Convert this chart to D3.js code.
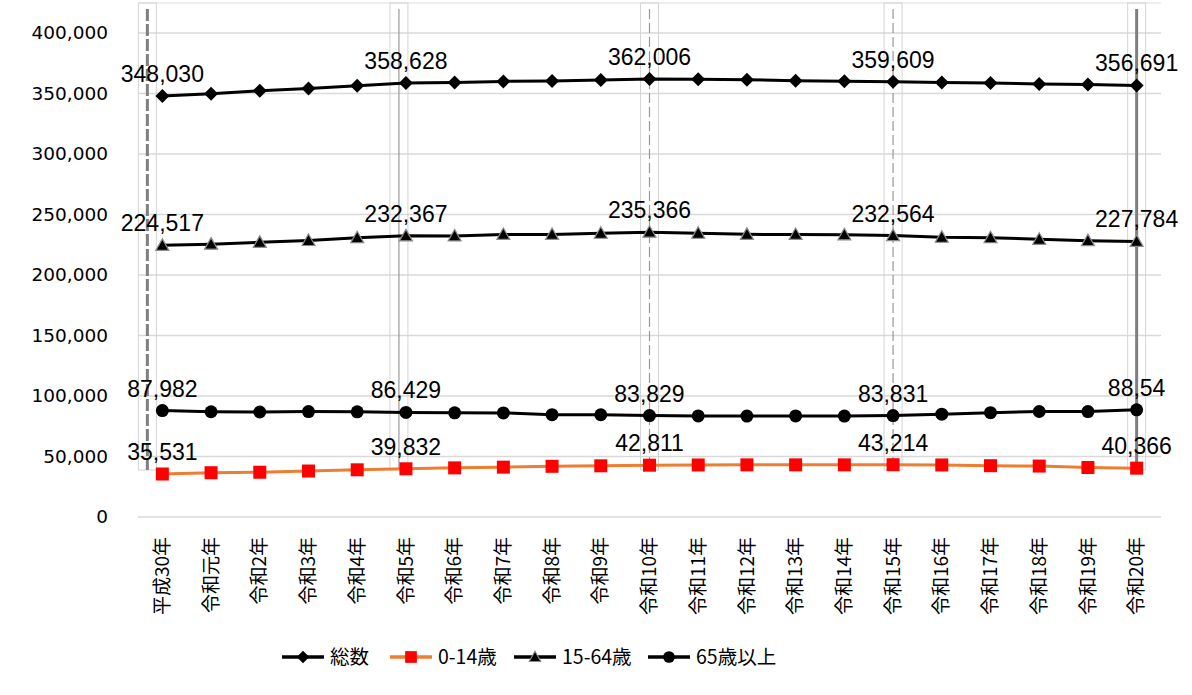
<!DOCTYPE html>
<html>
<head>
<meta charset="utf-8">
<script src="https://cdn.jsdelivr.net/npm/d3@7"></script>
<style>
  body { margin: 0; background: #fff; }
  svg { display: block; }
</style>
</head>
<body>
<div id="draw"></div>
<script>
// categories (x axis)
var years = ["平成30年", "令和元年", "令和2年", "令和3年", "令和4年", "令和5年", "令和6年",
  "令和7年", "令和8年", "令和9年", "令和10年", "令和11年", "令和12年", "令和13年",
  "令和14年", "令和15年", "令和16年", "令和17年", "令和18年", "令和19年", "令和20年"];

// series values
var total = [348030, 349800, 352300, 354200, 356500, 358628, 359000, 360000, 360300, 361200,
  362006, 361700, 361300, 360600, 360200, 359609, 359000, 358700, 357900, 357500, 356691];
var age0_14 = [35531, 36600, 37000, 38000, 39000, 39832, 40600, 41200, 41900, 42300,
  42811, 43000, 43100, 43100, 43100, 43214, 43000, 42400, 42100, 40900, 40366];
var age15_64 = [224517, 225500, 227000, 228500, 230800, 232367, 232300, 233500, 233500, 234500,
  235366, 234500, 233600, 233500, 233200, 232564, 231200, 230800, 229500, 228400, 227784];
var age65 = [87982, 87000, 86800, 87100, 86900, 86429, 86100, 86000, 84600, 84500,
  83829, 83500, 83400, 83500, 83400, 83831, 85000, 86200, 87200, 87100, 88540];

// data labels (only shown every 5 years)
var labelIdx = [0, 5, 10, 15, 20];
var totalLabels = ["348,030", "358,628", "362,006", "359,609", "356,691"];
var age0_14Labels = ["35,531", "39,832", "42,811", "43,214", "40,366"];
var age15_64Labels = ["224,517", "232,367", "235,366", "232,564", "227,784"];
var age65Labels = ["87,982", "86,429", "83,829", "83,831", "88,54"];

var yTicks = [0, 50000, 100000, 150000, 200000, 250000, 300000, 350000, 400000];
var legendNames = ["総数", "0-14歳", "15-64歳", "65歳以上"];

var W = 1192, H = 695;
var plotLeft = 138, plotRight = 1161, plotTop = 33, plotBottom = 517;

var svg = d3.select('#draw').append('svg').attr('width', W).attr('height', H);

var x = d3.scaleBand().domain(years).range([plotLeft, plotRight]);
var cx = function(i){ return x(years[i]) + x.bandwidth() / 2; };
var y = d3.scaleLinear().domain([0, 400000]).range([plotBottom, plotTop]);

// top frame line
svg.append('line').attr('x1', plotLeft).attr('x2', plotRight).attr('y1', 3).attr('y2', 3)
  .attr('stroke', '#dedede').attr('stroke-width', 1);

// gridlines
svg.append('g').selectAll('line').data(yTicks).enter().append('line')
  .attr('x1', plotLeft).attr('x2', plotRight)
  .attr('y1', function(d){ return y(d); }).attr('y2', function(d){ return y(d); })
  .attr('stroke', '#d9d9d9').attr('stroke-width', 1.3);

// y axis labels
var yAxis = d3.axisLeft(y).tickValues(yTicks).tickSize(0).tickPadding(0)
  .tickFormat(function(d){ return d === 0 ? "0" : d3.format(",")(d); });
var ga = svg.append('g').attr('transform', 'translate(108,0)').call(yAxis);
ga.select('.domain').remove();
ga.selectAll('text').attr('font-family', 'DejaVu Sans').attr('font-size', 18.5)
  .attr('fill', '#000');

// x axis labels (vertical)
var xAxis = d3.axisBottom(x).tickSize(0).tickPadding(0);
var gx = svg.append('g').attr('transform', 'translate(0,' + plotBottom + ')').call(xAxis);
gx.select('.domain').remove();
gx.selectAll('text')
  .attr('font-family', '"Noto Sans CJK JP"').attr('font-size', 19).attr('fill', '#000')
  .attr('text-anchor', 'end').attr('dy', '0.35em')
  .attr('transform', 'translate(0,20) rotate(-90)').attr('y', 0).attr('x', 0);

// highlight columns at the labelled years
var colShift = [-15, -7, 0, 0, 0];
var cols = svg.append('g');
labelIdx.forEach(function(idx, k){
  var px = cx(idx) + colShift[k];
  cols.append('rect').attr('x', px - 9).attr('y', 3).attr('width', 18).attr('height', 467)
    .attr('fill', 'none').attr('stroke', '#d4d4d4').attr('stroke-width', 1);
  var ends = (k === 0 || k === labelIdx.length - 1);
  cols.append('line').attr('x1', px).attr('x2', px).attr('y1', 9).attr('y2', 470)
    .attr('stroke', ends ? '#7f7f7f' : '#999')
    .attr('stroke-width', ends ? 3 : 1.2)
    .attr('stroke-dasharray', k === 0 ? '12,3' : (k === 2 || k === 3 ? '10,4' : null));
});

var lineGen = d3.line().x(function(d, i){ return cx(i); }).y(function(d){ return y(d); });

var diamond = "M0,-7L7,0L0,7L-7,0Z";
var series = [
  { vals: total, labels: totalLabels, color: '#000', marker: 'diamond' },
  { vals: age0_14, labels: age0_14Labels, color: '#ED7D31', marker: 'square' },
  { vals: age15_64, labels: age15_64Labels, color: '#000', marker: 'triangle' },
  { vals: age65, labels: age65Labels, color: '#000', marker: 'circle' }
];

function drawMarker(g, type, scale){
  if (type === 'diamond') {
    g.append('path').attr('d', diamond).attr('transform', 'scale(' + scale + ')').attr('fill', '#000');
  } else if (type === 'square') {
    var s = 13 * scale;
    g.append('rect').attr('x', -s / 2).attr('y', -s / 2).attr('width', s).attr('height', s)
      .attr('fill', '#ff0000');
  } else if (type === 'triangle') {
    g.append('path').attr('d', 'M0,-6.5L6.5,5L-6.5,5Z').attr('transform', 'scale(' + scale + ')')
      .attr('fill', '#000').attr('stroke', '#8c8c8c').attr('stroke-width', 1.2);
  } else {
    g.append('circle').attr('r', 6.5 * scale).attr('fill', '#000');
  }
}

series.forEach(function(s){
  svg.append('path').datum(s.vals).attr('d', lineGen)
    .attr('fill', 'none').attr('stroke', s.color).attr('stroke-width', 3);
  var mg = svg.append('g');
  s.vals.forEach(function(v, i){
    var g = mg.append('g').attr('transform', 'translate(' + cx(i) + ',' + y(v) + ')');
    drawMarker(g, s.marker, 1);
  });
});

// data labels
series.forEach(function(s){
  svg.append('g').selectAll('text').data(labelIdx).enter().append('text')
    .attr('x', function(idx){ return cx(idx); })
    .attr('y', function(idx){ return y(s.vals[idx]) - 14; })
    .attr('text-anchor', 'middle')
    .attr('font-family', 'Liberation Sans').attr('font-size', 23).attr('fill', '#000')
    .text(function(idx, k){ return s.labels[k]; });
});

// legend
var legendX = [282, 390, 514, 648];
var lg = svg.append('g').attr('transform', 'translate(0,657)');
series.forEach(function(s, k){
  var g = lg.append('g').attr('transform', 'translate(' + legendX[k] + ',0)');
  g.append('line').attr('x1', 0).attr('x2', 42).attr('stroke', s.color).attr('stroke-width', 3.5);
  drawMarker(g.append('g').attr('transform', 'translate(21,0)'), s.marker, 0.9);
  g.append('text').attr('x', 48).attr('dy', '0.35em')
    .attr('font-family', '"Noto Sans CJK JP"').attr('font-size', 19.5).attr('fill', '#000')
    .text(legendNames[k]);
});
</script>
</body>
</html>
